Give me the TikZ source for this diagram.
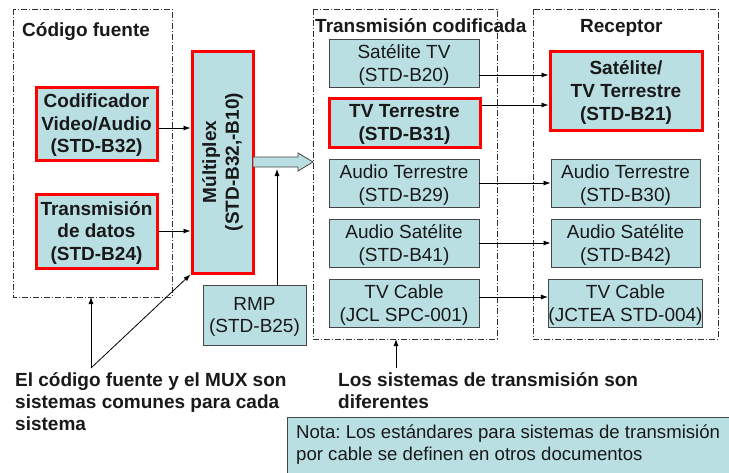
\documentclass[tikz,border=0pt]{standalone}
\usepackage{fontspec}
\setmainfont{Liberation Sans}
\usetikzlibrary{arrows.meta}
\frenchspacing
\definecolor{boxfill}{RGB}{186,223,226}
\definecolor{boxline}{RGB}{70,70,70}
\definecolor{redline}{RGB}{255,0,0}
\tikzset{
  x=1pt, y=-1pt,
  every node/.style={font=\fontsize{19}{22.6}\selectfont, text=black!90},
  stdbox/.style={draw=boxline, line width=0.9pt, fill=boxfill, inner sep=0pt, align=center, text depth=0pt},
  redbox/.style={draw=redline, line width=3pt, fill=boxfill, inner sep=0pt, align=center, text depth=0pt, font=\fontsize{19}{22.6}\selectfont\bfseries},
  container/.style={draw=black!80, line width=0.7pt, dash pattern=on 6pt off 2pt on 1pt off 2pt},
  arr/.style={-{Latex[length=7pt,width=5pt]}, line width=0.8pt, black},
  title/.style={font=\fontsize{19}{22.6}\selectfont\bfseries, inner sep=0pt, anchor=base west},
  note/.style={font=\fontsize{19}{22.4}\selectfont\bfseries, inner sep=0pt, anchor=north west, align=left}
}
\begin{document}
\begin{tikzpicture}
\useasboundingbox (0,0) rectangle (729,472);
\clip (0,0) rectangle (729,472);
\fill[white] (0,0) rectangle (729,472);

% containers
\draw[container] (13,9) rectangle (172,297);
\draw[container] (313,9) rectangle (497,339);
\draw[container] (533,9) rectangle (718,339);
\coordinate (cfs) at (91,297);
\coordinate (tcs) at (396,339);

% titles
\node[title] (tcf) at (22,36) {Código fuente};
\node[title] (ttc) at (315,32) {Transmisión codificada};
\node[title] (trc) at (580,32) {Receptor};

% source boxes
\node[redbox, minimum width=121pt, minimum height=73pt] (cod) at (96.5,123.5) {Codificador\\Video/Audio\\(STD-B32)};
\node[redbox, minimum width=121pt, minimum height=74pt] (dat) at (96.5,231) {Transmisión\\de datos\\(STD-B24)};
\node[redbox, minimum width=61pt, minimum height=222pt] (mux) at (222.5,162) {};
\node[rotate=90, align=center, inner sep=0pt, font=\fontsize{19}{22.6}\selectfont\bfseries] (muxt) at (mux.center) {Múltiplex\\(STD-B32,-B10)};
\node[stdbox, minimum width=103pt, minimum height=60pt] (rmp) at (254.5,315) {RMP\\(STD-B25)};

% hollow arrow
\draw[draw=boxline, line width=0.8pt, fill=boxfill] (253,157) -- (298,157) -- (298,153) -- (313,162) -- (298,171) -- (298,167) -- (253,167) -- cycle;
\coordinate (ha) at (277,169);

% transmission boxes
\node[stdbox, minimum width=150pt, minimum height=48pt] (t1) at (404,63) {Satélite TV\\(STD-B20)};
\node[redbox, minimum width=151pt, minimum height=49pt] (t2) at (404.5,122.5) {TV Terrestre\\(STD-B31)};
\node[stdbox, minimum width=150pt, minimum height=48pt] (t3) at (404,183) {Audio Terrestre\\(STD-B29)};
\node[stdbox, minimum width=150pt, minimum height=48pt] (t4) at (404,243) {Audio Satélite\\(STD-B41)};
\node[stdbox, minimum width=150pt, minimum height=48pt] (t5) at (404,303) {TV Cable\\(JCL SPC-001)};

% receiver boxes
\node[redbox, minimum width=152pt, minimum height=79pt] (r1) at (626,90.5) {Satélite/\\TV Terrestre\\(STD-B21)};
\node[stdbox, minimum width=149pt, minimum height=48pt] (r3) at (625.5,183) {Audio Terrestre\\(STD-B30)};
\node[stdbox, minimum width=149pt, minimum height=48pt] (r4) at (625.5,243) {Audio Satélite\\(STD-B42)};
\node[stdbox, minimum width=149pt, minimum height=48pt] (r5) at (625.5,303) {TV Cable\\(JCTEA STD-004)};

% arrows
\draw[arr] ([yshift=-4.5pt]cod.east) -- ([yshift=-4.5pt]cod.east -| mux.west);
\draw[arr] (dat.east) -- (dat.east -| mux.west);
\draw[arr] (ha |- rmp.north) -- (ha);
\draw[arr] ([yshift=-12pt]t1.east) -- ([yshift=-12pt]t1.east -| r1.west);
\draw[arr] ([yshift=17.5pt]t2.east) -- ([yshift=17.5pt]t2.east -| r1.west);
\draw[arr] (t3.east) -- (r3.west);
\draw[arr] (t4.east) -- (r4.west);
\draw[arr] ([yshift=6pt]t5.east) -- ([yshift=6pt]t5.east -| r5.west);

% annotations
\coordinate (apex) at (91,368);
\draw[arr] (apex) -- (cfs);
\draw[arr] (apex) -- (mux.south west);
\coordinate (ap2) at (396,368);
\draw[arr] (ap2) -- (tcs);

\node[note] (n1) at (15,372) {El código fuente y el MUX son\\sistemas comunes para cada\\sistema};
\node[note] (n2) at (338,372) {Los sistemas de transmisión son\\diferentes};

\node[draw=boxline, line width=0.9pt, fill=boxfill, anchor=north west, minimum width=460pt, minimum height=70pt] (nota) at (287,417) {};
\node[anchor=north west, inner sep=0pt, align=left, font=\fontsize{18.6}{22}\selectfont] (notat) at (296,425) {Nota: Los estándares para sistemas de transmisión\\por cable se definen en otros documentos};
\end{tikzpicture}
\end{document}
